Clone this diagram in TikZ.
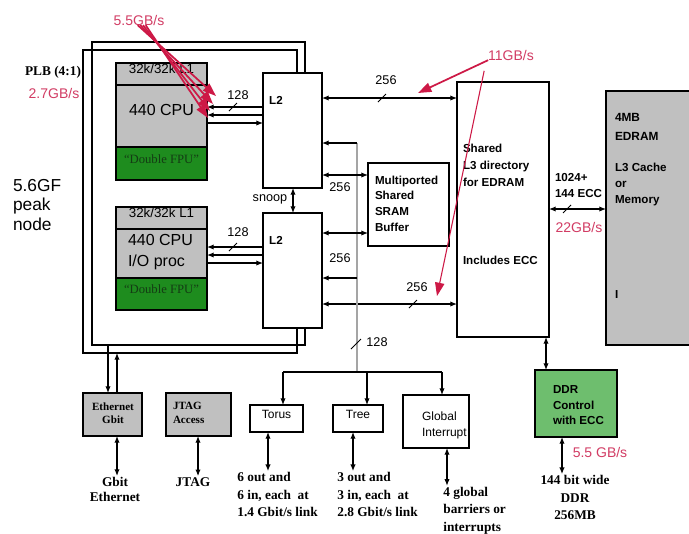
\documentclass[tikz,border=0pt]{standalone}
\usepackage{fontspec}
\setmainfont{Liberation Serif}
\setsansfont{Liberation Sans}
\usetikzlibrary{arrows.meta,fit}
\definecolor{fpugreen}{RGB}{30,140,30}
\definecolor{fputext}{RGB}{20,60,20}
\definecolor{ddrgreen}{RGB}{110,190,110}
\definecolor{boxgray}{RGB}{192,192,192}
\definecolor{busgray}{RGB}{165,165,165}
\definecolor{bwred}{RGB}{205,25,70}
\definecolor{redtxt}{RGB}{210,60,100}
\begin{document}
\begin{tikzpicture}[x=0.75pt,y=-0.75pt,
  box/.style={draw, line width=0.9pt, inner sep=0pt, outer sep=0pt, fit={#1}},
  ln/.style={line width=0.9pt},
  frame/.style={line width=1.1pt},
  arr/.style={ln, -{Latex[length=5pt,width=4pt]}},
  dbl/.style={ln, {Latex[length=5pt,width=4pt]}-{Latex[length=5pt,width=4pt]}},
  slash/.style={line width=0.7pt},
  redarr/.style={draw=bwred, line width=1.3pt, -{Triangle[length=10pt,width=7pt]}},
  redthin/.style={draw=bwred, line width=0.8pt, -{Triangle[length=10pt,width=7pt]}},
  tx/.style={inner sep=0pt, outer sep=0pt},
  lbl/.style={tx, font=\fontsize{8.7}{12}\sffamily\bfseries, align=left},
  num/.style={tx, font=\fontsize{9.5}{11}\sffamily},
  redlbl/.style={tx, text=redtxt, font=\fontsize{10.5}{12}\sffamily},
  bot/.style={inner sep=1pt, outer sep=0pt, font=\fontsize{10}{13}\rmfamily\bfseries, align=left},
]
\useasboundingbox (0,0) rectangle (689,533);
\fill[white] (0,0) rectangle (689,533);
\clip (0,0) rectangle (689,533);

% ---- CPU blocks
\node[box={(116,63) (207,85)}, fill=boxgray, font=\fontsize{10}{12}\sffamily] (l1a) {32k/32k L1};
\node[box={(116,85) (207,147)}, fill=boxgray, font=\fontsize{12}{14}\sffamily] (cpua) {440 CPU};
\node[box={(116,147) (207,180)}, fill=fpugreen, text=fputext, font=\fontsize{9.5}{11}\rmfamily] (fpua) {“Double FPU”};
\node[box={(116,207) (207,229)}, fill=boxgray, font=\fontsize{10}{12}\sffamily] (l1b) {32k/32k L1};
\node[box={(116,229) (207,278)}, fill=boxgray] (cpub) {};
\node[tx, anchor=west, align=left, font=\fontsize{12}{15.75}\sffamily] (cpubt) at (128,252.5) {440 CPU\\I/O proc};
\node[box={(116,278) (207,310)}, fill=fpugreen, text=fputext, font=\fontsize{9.5}{11}\rmfamily] (fpub) {“Double FPU”};

% ---- L2 caches
\node[box={(263,73) (322,188)}] (l2a) {};
\node[lbl] (l2at) at (276,100) {L2};
\node[box={(263,213) (322,328)}] (l2b) {};
\node[lbl] (l2bt) at (276,240) {L2};

% ---- SRAM buffer
\node[box={(368,163) (449,246)}] (sram) {};
\node[lbl, anchor=west, font=\fontsize{8.7}{11.8}\sffamily\bfseries] (sramt) at (375,203.5) {Multiported\\Shared\\SRAM\\Buffer};

% ---- L3 directory
\node[box={(457,82) (549,337)}] (l3) {};
\node[lbl, anchor=west, font=\fontsize{8.7}{12.75}\sffamily\bfseries] (l3t) at (463,165) {Shared\\L3 directory\\for EDRAM};
\node[lbl, anchor=west] (l3e) at (463,260) {Includes ECC};

% ---- EDRAM
\node[box={(606,91) (700,345)}, fill=boxgray] (edram) {};
\node[lbl, anchor=west, font=\fontsize{8.9}{14.25}\sffamily\bfseries] (edt1) at (615,126.5) {4MB\\EDRAM};
\node[lbl, anchor=west, font=\fontsize{8.7}{12}\sffamily\bfseries] (edt2) at (615,184) {L3 Cache\\or\\Memory};
\node[lbl, anchor=west] (edt3) at (615,295) {I};

% ---- DDR
\node[box={(535,370) (617,437)}, fill=ddrgreen] (ddr) {};
\node[lbl, anchor=west, font=\fontsize{8.7}{11.6}\sffamily\bfseries] (ddrt) at (553,405.5) {DDR\\Control\\with ECC};

% ---- I/O boxes
\node[box={(83,393) (142,436)}, fill=boxgray] (eth) {};
\node[tx, align=center, font=\fontsize{8.3}{9.5}\rmfamily\bfseries] (etht) at (113,413) {Ethernet\\Gbit};
\node[box={(166,393) (231,436)}, fill=boxgray] (jtag) {};
\node[tx, anchor=west, align=left, font=\fontsize{8.3}{10.5}\rmfamily\bfseries] (jtagt) at (173,413) {JTAG\\Access};
\node[box={(250,405) (303,432)}, font=\fontsize{9}{11}\sffamily] (torus) {Torus};
\node[box={(333,405) (383,432)}, font=\fontsize{9}{11}\sffamily] (tree) {Tree};
\node[box={(403,395) (469,448)}] (gi) {};
\node[tx, anchor=west, align=left, font=\fontsize{9}{12.5}\sffamily] (git) at (422,425.5) {Global\\Interrupt};

% ---- bottom descriptions
\node[bot, anchor=west] (torustx) at (236,494.5) {6 out and\\6 in, each~ at\\1.4 Gbit/s link};
\node[bot, anchor=west] (treetx) at (336,494.5) {3 out and\\3 in, each~ at\\2.8 Gbit/s link};
\node[bot, anchor=west] (gitx) at (442,510.5) {4 global\\barriers or\\interrupts};
\node[bot, align=center] (ddrtx) at (575,497.5) {144 bit wide\\DDR\\256MB};
\node[bot, align=center, font=\fontsize{10}{11.25}\rmfamily\bfseries] (ethtx) at (115,489.5) {Gbit\\Ethernet};
\node[bot] (jtagtx) at (193,482) {JTAG};

% ---- left labels
\node[tx, font=\fontsize{10}{12}\rmfamily\bfseries] (plb) at (53,72) {PLB (4:1)};
\node[redlbl] (bw27) at (54,93) {2.7GB/s};
\node[tx, anchor=west, align=left, font=\fontsize{13}{14.6}\sffamily] (peak) at (13,205) {5.6GF\\peak\\node};

% ---- frames (PLB)
\draw[frame] (l2a.north -| 305,0) |- (92,42) |- (305,345) -- (l2b.south -| 305,0);
\draw[frame] (l2a.north -| 297,0) |- (83,50) |- (297,353) -- (l2b.south -| 297,0);

% ---- CPU <-> L2
\draw[arr] (l2a.west |- 0,107) -- (cpua.east |- 0,107);
\draw[arr] (l2a.west |- 0,115) -- (cpua.east |- 0,115);
\draw[arr] (cpua.east |- 0,123) -- (l2a.west |- 0,123);
\draw[slash] (229,111) -- (237,103);
\node[num] (n128a) at (238,95) {128};
\draw[arr] (l2b.west |- 0,247) -- (cpub.east |- 0,247);
\draw[arr] (l2b.west |- 0,255) -- (cpub.east |- 0,255);
\draw[arr] (cpub.east |- 0,263) -- (l2b.west |- 0,263);
\draw[slash] (229,251) -- (237,243);
\node[num] (n128b) at (238,232) {128};

% snoop
\draw[dbl] (l2a.south -| 293,0) -- (l2b.north -| 293,0);
\node[num] (snoop) at (270,199) {snoop};

% ---- L2 <-> L3, SRAM, bus
\draw[dbl] (l2a.east |- 0,98) -- (l3.west |- 0,98);
\draw[slash] (378,102) -- (386,94);
\node[num] (n256a) at (386,80) {256};
\draw[dbl] (l2b.east |- 0,304) -- (l3.west |- 0,304);
\draw[slash] (409,308) -- (417,300);
\node[num] (n256d) at (417,287) {256};

\coordinate (bustop) at (357,143);
\coordinate (busmid) at (357,278);
\coordinate (busbot) at (357,372);
\draw[line width=1.3pt, busgray] (bustop) -- (busbot);
\draw[arr] (bustop) -- (l2a.east |- bustop);
\draw[arr] (busmid) -- (l2b.east |- busmid);
\draw[dbl] (l2a.east |- 0,175) -- (sram.west |- 0,175);
\node[num] (n256b) at (340,187) {256};
\draw[dbl] (l2b.east |- 0,233) -- (sram.west |- 0,233);
\node[num] (n256c) at (340,258) {256};
\draw[slash] (351,349) -- (361,339);
\node[num] (n128c) at (377,342) {128};

% distribution to torus / tree / global interrupt
\draw[ln] (283,372) -- (442,372);
\draw[arr] (283,372) -- (torus.north -| 283,0);
\draw[arr] (367,372) -- (tree.north -| 367,0);
\draw[arr] (442,372) -- (gi.north -| 442,0);

% ---- L3 <-> EDRAM, DDR
\draw[dbl] (l3.east |- 0,209) -- (edram.west |- 0,209);
\draw[slash] (563,213) -- (571,205);
\node[lbl, anchor=west] (w1024) at (555,186) {1024+\\144 ECC};
\node[redlbl] (bw22) at (579,227) {22GB/s};
\draw[dbl] (l3.south -| 546,0) -- (ddr.north -| 546,0);
\draw[dbl] (ddr.south -| 562,0) -- (ddrtx.north -| 562,0);
\node[redlbl] (bw55b) at (600,452) {5.5 GB/s};

% ---- I/O arrows
\coordinate (fa) at (108,345);
\coordinate (fb) at (117,353);
\draw[arr] (fa) -- (eth.north -| fa);
\draw[arr] (eth.north -| fb) -- (fb);
\draw[dbl] (eth.south -| 117,0) -- (ethtx.north -| 117,0);
\draw[dbl] (jtag.south -| 198,0) -- (jtagtx.north -| 198,0);
\draw[dbl] (torus.south -| 268,0) -- (torustx.north -| 268,0);
\draw[dbl] (tree.south -| 353,0) -- (treetx.north -| 353,0);
\draw[dbl] (gi.south -| 447,0) -- (gitx.north -| 447,0);

% ---- red bandwidth annotations
\node[redlbl] (bw55) at (139,20) {5.5GB/s};
\coordinate (t1) at (216,96);
\coordinate (t2) at (213,104);
\coordinate (t3) at (210,111);
\coordinate (t4) at (208,118);
\draw[redarr] ([xshift=-1pt]bw55.south) -- (t1);
\draw[redarr] ([xshift=1pt]bw55.south) -- (t2);
\draw[redarr] ([xshift=3pt]bw55.south) -- (t3);
\draw[redarr] ([xshift=5pt]bw55.south) -- (t4);

\node[redlbl] (bw11) at (511,55) {11GB/s};
\coordinate (t5) at (418,93);
\coordinate (t6) at (437,296);
\draw[redarr] (bw11.south west) -- (t5);
\draw[redthin] ([xshift=-3pt,yshift=-8pt]bw11.south west) -- (t6);
\end{tikzpicture}
\end{document}
